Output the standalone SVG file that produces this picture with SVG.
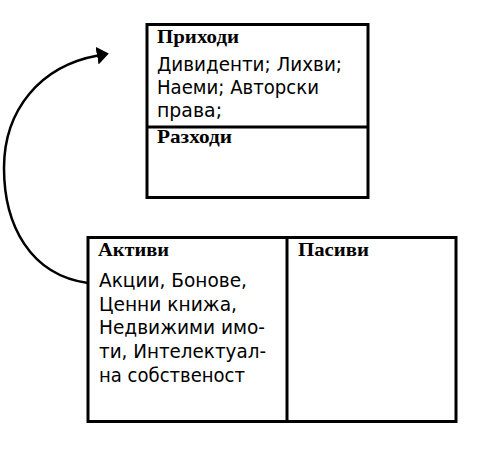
<svg xmlns="http://www.w3.org/2000/svg" width="486" height="461" viewBox="0 0 486 461">
<defs>
<style>
.box{fill:#fff;stroke:#000;stroke-width:3}
.div{stroke:#000;stroke-width:3}
.hd{font-family:"Liberation Serif","Times New Roman",serif;font-weight:bold;font-size:19px;fill:#000}
.tx{font-family:"DejaVu Sans","Noto Sans",sans-serif;font-size:19px;fill:#000}
.conn{fill:none;stroke:#000;stroke-width:2.5}
</style>
<marker id="ah" markerWidth="10" markerHeight="10" refX="0.4" refY="3.6" orient="auto" markerUnits="strokeWidth">
<path d="M0,0 L4.8,3.6 L0,7.2 Z" fill="#000"/>
</marker>
</defs>
<rect width="486" height="461" fill="#fff"/>
<g id="connectors">
<path class="conn" d="M88,283 C30,275 4,225 4,168 C4,110 40,66 98,55.5" marker-end="url(#ah)"/>
</g>
<g id="income-statement">
<rect class="box" x="147" y="24.5" width="221" height="173"/>
<line class="div" x1="147" y1="127" x2="368" y2="127"/>
<text class="hd" x="157" y="43" textLength="82" lengthAdjust="spacingAndGlyphs">Приходи</text>
<text class="tx" x="157" y="71" textLength="185" lengthAdjust="spacingAndGlyphs">Дивиденти; Лихви;</text>
<text class="tx" x="157" y="94" textLength="162" lengthAdjust="spacingAndGlyphs">Наеми; Авторски</text>
<text class="tx" x="157" y="117" textLength="65" lengthAdjust="spacingAndGlyphs">права;</text>
<text class="hd" x="157" y="143" textLength="75" lengthAdjust="spacingAndGlyphs">Разходи</text>
</g>
<g id="balance-sheet">
<rect class="box" x="88" y="237.5" width="368" height="184"/>
<line class="div" x1="287" y1="237.5" x2="287" y2="421.5"/>
<text class="hd" x="98" y="256" textLength="71" lengthAdjust="spacingAndGlyphs">Активи</text>
<text class="tx" x="99" y="287" textLength="148" lengthAdjust="spacingAndGlyphs">Акции, Бонове,</text>
<text class="tx" x="99" y="310.5" textLength="138" lengthAdjust="spacingAndGlyphs">Ценни книжа,</text>
<text class="tx" x="99" y="334" textLength="166" lengthAdjust="spacingAndGlyphs">Недвижими имо-</text>
<text class="tx" x="99" y="358" textLength="167" lengthAdjust="spacingAndGlyphs">ти, Интелектуал-</text>
<text class="tx" x="99" y="382" textLength="146" lengthAdjust="spacingAndGlyphs">на собственост</text>
<text class="hd" x="298" y="256" textLength="71" lengthAdjust="spacingAndGlyphs">Пасиви</text>
</g>
</svg>
